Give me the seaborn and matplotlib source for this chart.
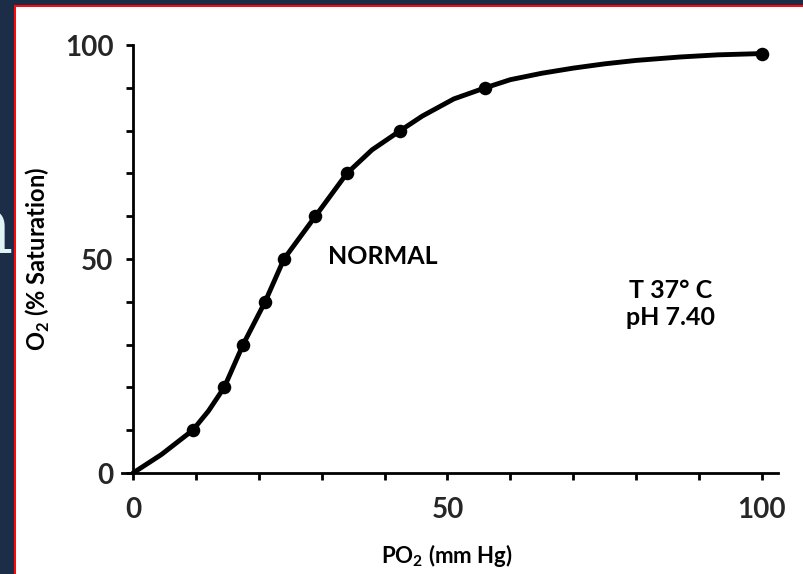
import matplotlib
matplotlib.use("Agg")
import matplotlib.pyplot as plt
import seaborn as sns
import pandas as pd
from matplotlib.patches import Rectangle
from matplotlib.ticker import MultipleLocator

# measured points on the curve (PO2 mm Hg, % saturation)
po2_points = [9.5, 14.5, 17.5, 21, 24, 29, 34, 42.5, 56, 100]
sat_points = [10, 20, 30, 40, 50, 60, 70, 80, 90, 98]

# the drawn curve
po2_curve = [0, 4.5, 9.5, 12, 14.5, 17.5, 21, 24, 29, 34, 38, 42.5, 46, 51, 56,
             60, 65, 70, 75, 80, 87, 93, 100]
sat_curve = [0, 4.3, 10, 14.5, 20, 30, 40, 50, 60, 70, 75.5, 80, 83.4, 87.4, 90,
             91.9, 93.4, 94.6, 95.6, 96.4, 97.2, 97.7, 98]

x_ticks = [0, 50, 100]
y_ticks = [0, 50, 100]

pts = pd.DataFrame({"PO2": po2_points, "Sat": sat_points})
curve = pd.DataFrame({"PO2": po2_curve, "Sat": sat_curve})

sns.set_theme(style="white")
font = ["Lato", "DejaVu Sans"]
plt.rcParams["font.family"] = font
plt.rcParams["font.weight"] = "bold"
plt.rcParams["mathtext.fontset"] = "custom"
plt.rcParams["mathtext.rm"] = "Lato:bold"

W, H = 804, 574
fig = plt.figure(figsize=(W / 100, H / 100), dpi=100, facecolor="#1b2d47")

# slide background pieces
fig.text(14 / W, 1 - 253 / H, "a", ha="right", va="baseline", fontsize=60,
         family="DejaVu Serif", weight="normal", color="#dff5f5", zorder=0.5)
fig.patches.append(Rectangle((14 / W, 0), 1, 1 - 5 / H, transform=fig.transFigure,
                             facecolor="#ff0a0a", edgecolor="none", zorder=1))
fig.patches.append(Rectangle((16 / W, 0), 1, 1 - 7 / H, transform=fig.transFigure,
                             facecolor="white", edgecolor="none", zorder=1.5))

ax = fig.add_axes([121.7 / W, 1 - 473 / H, 656 / W, 428 / H])
ax.set_zorder(3)
ax.patch.set_alpha(0)

sns.lineplot(data=curve, x="PO2", y="Sat", sort=False, estimator=None,
             color="black", linewidth=3.5, ax=ax)
sns.scatterplot(data=pts, x="PO2", y="Sat", color="black", s=95,
                edgecolor="black", linewidth=0, ax=ax, zorder=4)

ax.set_xlim(-1.8, 102.5)
ax.set_ylim(0, 100)
for c in ax.lines + ax.collections:
    c.set_clip_on(False)

for s in ["top", "right"]:
    ax.spines[s].set_visible(False)
ax.spines["left"].set_position(("data", 0))
for s in ["left", "bottom"]:
    ax.spines[s].set_linewidth(2.0)
    ax.spines[s].set_color("black")

ax.set_xticks(x_ticks)
ax.set_yticks(y_ticks)
ax.xaxis.set_minor_locator(MultipleLocator(10))
ax.yaxis.set_minor_locator(MultipleLocator(10))
ax.tick_params(which="both", direction="out", color="black", width=2,
               bottom=True, left=True)
ax.tick_params(which="major", length=5, labelsize=20, pad=9)
ax.tick_params(which="minor", length=5)
ax.tick_params(axis="x", which="major", pad=12)

ax.set_xlabel("PO$_2$ (mm Hg)", fontsize=16, weight="bold", color="black")
ax.set_ylabel("O$_2$ (% Saturation)", fontsize=17, weight="bold", color="black")
ax.xaxis.set_label_coords(0.496, -0.162)
ax.yaxis.set_label_coords(-0.106, 0.5)

ax.text(31, 50.7, "NORMAL", fontsize=18, ha="left", va="center", color="black")
ax.text(85.4, 39.5, "T 37° C\npH 7.40", fontsize=18, ha="center", va="center",
        linespacing=1.2, color="black")

fig.savefig("out.png", dpi=100, facecolor=fig.get_facecolor())
